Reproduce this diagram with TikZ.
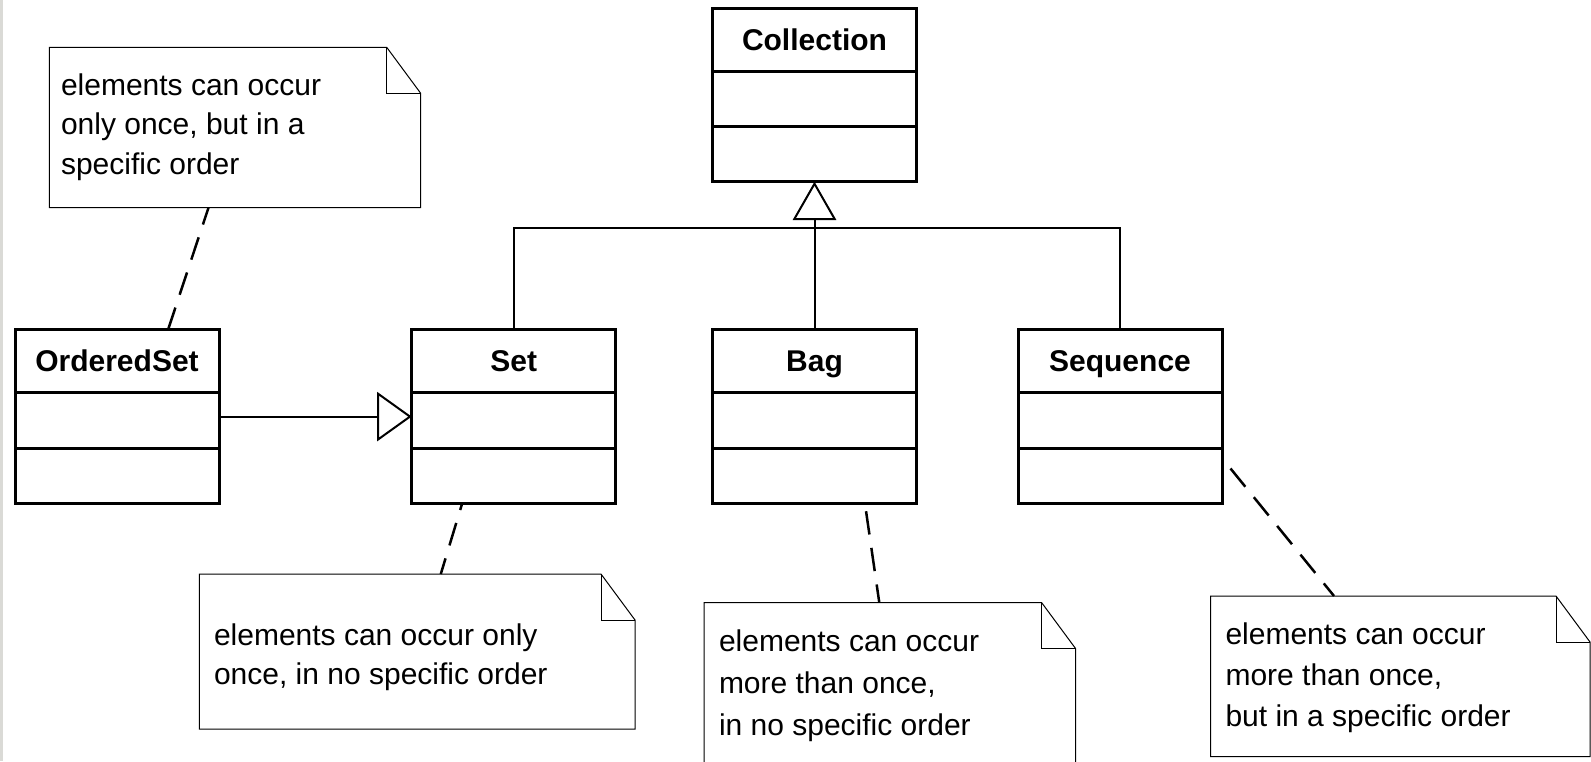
\documentclass[tikz,border=0pt]{standalone}
\usepackage{fontspec}
\setmainfont{Liberation Sans}
\usetikzlibrary{calc,arrows.meta,fit}
\definecolor{edgegray}{RGB}{218,218,214}
\tikzset{
  every node/.style={outer sep=0pt},
  clsbox/.style={draw, line width=3pt, minimum width=204pt, minimum height=173.4pt, inner sep=0pt},
  clsname/.style={font=\fontsize{30}{36}\selectfont\bfseries, anchor=base, inner sep=0pt},
  clsrule/.style={line width=3pt},
  notearea/.style={inner sep=0pt, draw=none},
  noteedge/.style={line width=1pt, line join=miter},
  notetext/.style={font=\fontsize{30}{36}\selectfont, anchor=base west, inner sep=0pt},
  genline/.style={line width=2pt},
  anchorlink/.style={line width=2.5pt, dash pattern=on 23.5pt off 13.5pt},
}
% UML class: name, centre, title
\newcommand\umlclass[3]{%
  \node[clsbox] (#1) at (#2) {};
  \node[clsname] (#1-title) at ($(#1.north)+(0,41.7)$) {#3};
  \draw[clsrule] ($(#1.north west)+(0,63)$) -- ($(#1.north east)+(0,63)$);
  \draw[clsrule] ($(#1.north west)+(0,118.3)$) -- ($(#1.north east)+(0,118.3)$);
}
% UML note with folded corner: name, top-left corner, bottom-right corner
\newcommand\umlnote[3]{%
  \node[notearea, fit={(#2) (#3)}] (#1) {};
  \draw[noteedge] (#1.north west) -- ($(#1.north east)+(-34,0)$)
    -- ($(#1.north east)+(0,46)$) -- (#1.south east) -- (#1.south west) -- cycle;
  \draw[noteedge] ($(#1.north east)+(-34,0)$) |- ($(#1.north east)+(0,46)$);
}
\begin{document}
\begin{tikzpicture}[x=1pt, y=-1pt]
  \useasboundingbox (0,0) rectangle (1591,761);
  \clip (0,0) rectangle (1591,761);
  \fill[white] (0,0) rectangle (1591,761);
  \fill[edgegray] (0,0) rectangle (3,761);

  % classes
  \umlclass{coll}{814.5,95}{Collection}
  \umlclass{ordset}{117,416.6}{OrderedSet}
  \umlclass{set}{513.7,416.6}{Set}
  \umlclass{bag}{814.5,416.6}{Bag}
  \umlclass{seq}{1120,416.6}{Sequence}

  % generalisations
  \coordinate (bus) at (814.5,228.3);
  \draw[genline] (set.north) -- (set.north |- bus) -- (seq.north |- bus) -- (seq.north);
  \draw[genline, -{Triangle[open, length=38.3pt, width=43.3pt]}] (bag.north) -- (coll.south);
  \draw[genline, -{Triangle[open, length=34.5pt, width=49pt]}] (ordset.east) -- (set.west);

  % notes
  \umlnote{n1}{49.3,47.3}{420.7,207.7}
  \node[notetext] (n1-a) at (61,95) {elements can occur};
  \node[notetext] (n1-b) at (61,134.5) {only once, but in a};
  \node[notetext] (n1-c) at (61,174) {specific order};

  \umlnote{n2}{199.3,574}{635,729}
  \node[notetext] (n2-a) at (214,645.7) {elements can occur only};
  \node[notetext] (n2-b) at (214,684.3) {once, in no specific order};

  \umlnote{n3}{704,602.7}{1075.7,764}
  \node[notetext] (n3-a) at (719,651.7) {elements can occur};
  \node[notetext] (n3-b) at (719,693.3) {more than once,};
  \node[notetext] (n3-c) at (719,735) {in no specific order};

  \umlnote{n4}{1210.7,596}{1590,756.7}
  \node[notetext] (n4-a) at (1225.5,644) {elements can occur};
  \node[notetext] (n4-b) at (1225.5,685.3) {more than once,};
  \node[notetext] (n4-c) at (1225.5,726.7) {but in a specific order};

  % note anchors
  \draw[anchorlink] ($(ordset.north west)+(153,0)$) -- ($(n1.south west)+(159.2,0)$);
  \draw[anchorlink, dash phase=16.5pt] ($(set.south west)+(50.5,0)$) -- ($(n2.north west)+(241.5,0)$);
  \draw[anchorlink, dash phase=29pt] ($(bag.south west)+(152.4,0)$) -- ($(n3.north west)+(175.3,0)$);
  \draw[anchorlink, dash phase=23.5pt] ($(seq.south east)+(0,-45.3)$) -- ($(n4.north west)+(123.3,0)$);
\end{tikzpicture}
\end{document}
